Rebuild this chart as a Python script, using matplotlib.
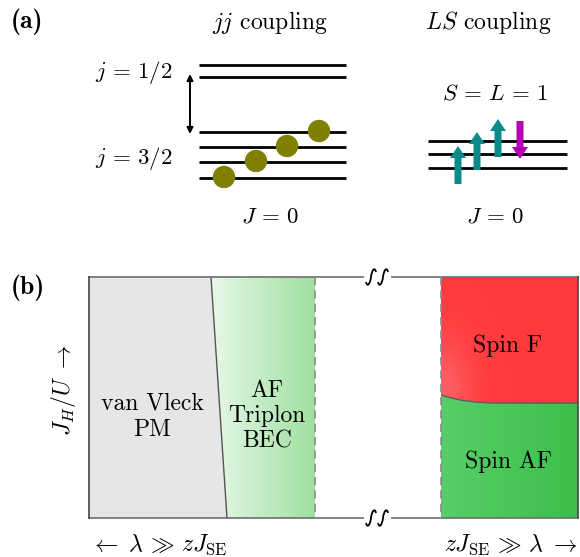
import matplotlib
matplotlib.use("Agg")
import matplotlib.pyplot as plt
import numpy as np
from matplotlib.patches import Polygon, Circle, FancyArrow, PathPatch
from matplotlib.path import Path
from matplotlib.colors import LinearSegmentedColormap

plt.rcParams["font.family"] = "cmr10"
plt.rcParams["mathtext.fontset"] = "cm"

# ---- schematic content -------------------------------------------------
jj_groups = [r"$j\,=\,1/2$", r"$j\,=\,3/2$"]
jj_levels_per_group = [2, 4]
jj_occupied = [0, 1, 2, 3]          # j=3/2 levels holding an electron (bottom up)
ls_levels = 3
ls_spins = [1, 1, 1, -1]            # +1 up, -1 down
ls_spin_level = [0, 1, 2, 2]        # level each spin sits on (0 = lowest)
phases_left = ["van Vleck\nPM", "AF\nTriplon\nBEC"]
phases_right = ["Spin F", "Spin AF"]

FS = 17
OLIVE = "#808000"
TEAL = "#0b8a8a"
MAGENTA = "#b400b4"

fig = plt.figure(figsize=(5.8, 5.57), dpi=100)
ax = fig.add_axes([0, 0, 1, 1])
ax.set_xlim(0, 580)
ax.set_ylim(557, 0)
ax.axis("off")

# =======================================================================
#  Panel (a)
# =======================================================================
ax.text(11, 22, "(a)", fontsize=18.5, fontfamily="cmb10", va="center")
ax.text(270, 22, r"$jj$ coupling", fontsize=FS, ha="center", va="center")
ax.text(488, 22, r"$LS$ coupling", fontsize=FS, ha="center", va="center")

# jj levels
lx0, lx1 = 199, 346
upper_y = [65, 77]
lower_y = [178, 162, 147, 132]       # bottom up
for y in upper_y + lower_y:
    ax.plot([lx0, lx1], [y, y], color="black", lw=2, solid_capstyle="butt")
ax.text(134, 73, jj_groups[0], fontsize=16.5, ha="center", va="center")
ax.text(134, 158, jj_groups[1], fontsize=16.5, ha="center", va="center")
ax.annotate("", xy=(190, 74), xytext=(190, 134),
            arrowprops=dict(arrowstyle="<|-|>", color="black", lw=1.4,
                            mutation_scale=9, shrinkA=0, shrinkB=0))
occ_x = [224, 256, 287, 319]
for k, lev in enumerate(jj_occupied):
    ax.add_patch(Circle((occ_x[k], lower_y[lev] - 1), 10.5, color=OLIVE, zorder=3))
ax.text(270, 217, r"$J\,=\,0$", fontsize=16.5, ha="center", va="center")

# LS levels
sx0, sx1 = 428, 567
ls_y = [168, 154, 141][:ls_levels]
for y in ls_y:
    ax.plot([sx0, sx1], [y, y], color="black", lw=2, solid_capstyle="butt")
ax.text(495, 93, r"$S\,=\,L\,=\,1$", fontsize=16.5, ha="center", va="center")
spin_x = [458, 477, 498, 520]
for k, (s, lev) in enumerate(zip(ls_spins, ls_spin_level)):
    yc = ls_y[lev]
    if s > 0:
        ax.add_patch(FancyArrow(spin_x[k], yc + 16, 0, -38,
                                width=7, head_width=16, head_length=12,
                                length_includes_head=True, color=TEAL, lw=0, zorder=3))
    else:
        ax.add_patch(FancyArrow(spin_x[k], yc - 20, 0, 38,
                                width=7, head_width=16, head_length=12,
                                length_includes_head=True, color=MAGENTA, lw=0, zorder=3))
ax.text(495, 217, r"$J\,=\,0$", fontsize=16.5, ha="center", va="center")

# =======================================================================
#  Panel (b)
# =======================================================================
ax.text(11, 288, "(b)", fontsize=18.5, fontfamily="cmb10", va="center")
L, R, T, B = 89, 578, 277, 518
x_pm_top, x_pm_bot = 211, 227
x_dash1, x_dash2 = 315, 441

# van Vleck PM region
ax.add_patch(Polygon([(L, T), (x_pm_top, T), (x_pm_bot, B), (L, B)],
                     closed=True, facecolor="#e6e6e6", edgecolor="none"))
ax.plot([x_pm_top, x_pm_bot], [T, B], color="#555555", lw=1)

# triplon BEC gradient
tri = Polygon([(x_pm_top, T), (x_dash1, T), (x_dash1, B), (x_pm_bot, B)],
              closed=True, facecolor="none", edgecolor="none")
ax.add_patch(tri)
cm_tri = LinearSegmentedColormap.from_list("tri", ["#e8f8e8", "#9ee0a0"])
im = ax.imshow(np.linspace(0, 1, 256)[None, :], cmap=cm_tri, aspect="auto",
               extent=(x_pm_top, x_dash1, B, T), interpolation="bilinear")
im.set_clip_path(tri)

# spin F / spin AF boundary
y_b0, y_b1 = 395, 403
verts_f = [(x_dash2, T), (R, T), (R, y_b1), (500, y_b1),
           (475, y_b1), (460, 401), (x_dash2, y_b0), (x_dash2, T)]
codes_f = [Path.MOVETO, Path.LINETO, Path.LINETO, Path.LINETO,
           Path.CURVE4, Path.CURVE4, Path.CURVE4, Path.CLOSEPOLY]
red_patch = PathPatch(Path(verts_f, codes_f), facecolor="none", edgecolor="none")
ax.add_patch(red_patch)
verts_af = [(x_dash2, y_b0), (460, 401), (475, y_b1), (500, y_b1),
            (R, y_b1), (R, B), (x_dash2, B), (x_dash2, y_b0)]
codes_af = [Path.MOVETO, Path.CURVE4, Path.CURVE4, Path.CURVE4,
            Path.LINETO, Path.LINETO, Path.LINETO, Path.CLOSEPOLY]
green_patch = PathPatch(Path(verts_af, codes_af), facecolor="none", edgecolor="none")
ax.add_patch(green_patch)

# red with a soft highlight near the lower-left corner
xs = np.linspace(x_dash2, R, 200)
ys = np.linspace(T, y_b1, 200)
XX, YY = np.meshgrid(xs, ys)
glow = np.exp(-(((XX - x_dash2) / 30) ** 2 + ((YY - 395) / 55) ** 2))
base = np.array([1.0, 0.23, 0.24])
light = np.array([1.0, 0.38, 0.40])
rgb = base[None, None, :] + glow[..., None] * (light - base)[None, None, :]
im_r = ax.imshow(rgb, extent=(x_dash2, R, y_b1, T), origin="upper",
                 aspect="auto", interpolation="bilinear")
im_r.set_clip_path(red_patch)

cm_af = LinearSegmentedColormap.from_list("af", ["#58ce68", "#3dbf4b"])
im_g = ax.imshow(np.linspace(0, 1, 256)[None, :], cmap=cm_af, aspect="auto",
                 extent=(x_dash2, R, B, y_b0 - 2), interpolation="bilinear")
im_g.set_clip_path(green_patch)

bpath = Path([(x_dash2, y_b0), (460, 401), (475, y_b1), (500, y_b1), (R, y_b1)],
             [Path.MOVETO, Path.CURVE4, Path.CURVE4, Path.CURVE4, Path.LINETO])
ax.add_patch(PathPatch(bpath, facecolor="none", edgecolor="#5a5a6a", lw=1))

# frame and dashed borders
frame_c = "#6e6e6e"
ax.plot([L, R], [T, T], color=frame_c, lw=1.2)
ax.plot([L, R], [B, B], color=frame_c, lw=1.2)
ax.plot([L, L], [T, B], color="#444444", lw=1.2)
ax.plot([R, R], [T, B], color="#444444", lw=1.2)
for xd in (x_dash1, x_dash2):
    ax.plot([xd, xd], [T, B], color="#8c8c8c", lw=1.2, ls=(0, (5, 3)))

# axis breaks
for yb in (T, B):
    ax.plot([366, 389], [yb, yb], color="white", lw=3, zorder=4)
    for xc in (371, 383):
        sq = Path([(xc - 5, yb + 5), (xc - 4, yb + 10), (xc - 1, yb + 8), (xc, yb),
                   (xc + 1, yb - 8), (xc + 4, yb - 10), (xc + 5, yb - 5)],
                  [Path.MOVETO, Path.CURVE4, Path.CURVE4, Path.CURVE4,
                   Path.CURVE4, Path.CURVE4, Path.CURVE4])
        ax.add_patch(PathPatch(sq, facecolor="none", edgecolor="black", lw=1.3, zorder=5))

# phase labels
ax.text(152, 417, phases_left[0], fontsize=FS, ha="center", va="center",
        linespacing=1.25)
ax.text(267, 416, phases_left[1], fontsize=FS, ha="center", va="center",
        linespacing=1.2)
ax.text(508, 346, phases_right[0], fontsize=FS, ha="center", va="center")
ax.text(508, 462, phases_right[1], fontsize=FS, ha="center", va="center")

# axis labels
ax.text(64, 390, r"$J_H/U\ \rightarrow$", fontsize=FS, rotation=90,
        ha="center", va="center")
ax.text(90, 545, r"$\leftarrow\ \lambda\,\gg\,zJ_{\rm SE}$", fontsize=FS,
        ha="left", va="center")
ax.text(578, 545, r"$zJ_{\rm SE}\,\gg\,\lambda\ \rightarrow$", fontsize=FS,
        ha="right", va="center")

fig.savefig("out.png", dpi=100)
